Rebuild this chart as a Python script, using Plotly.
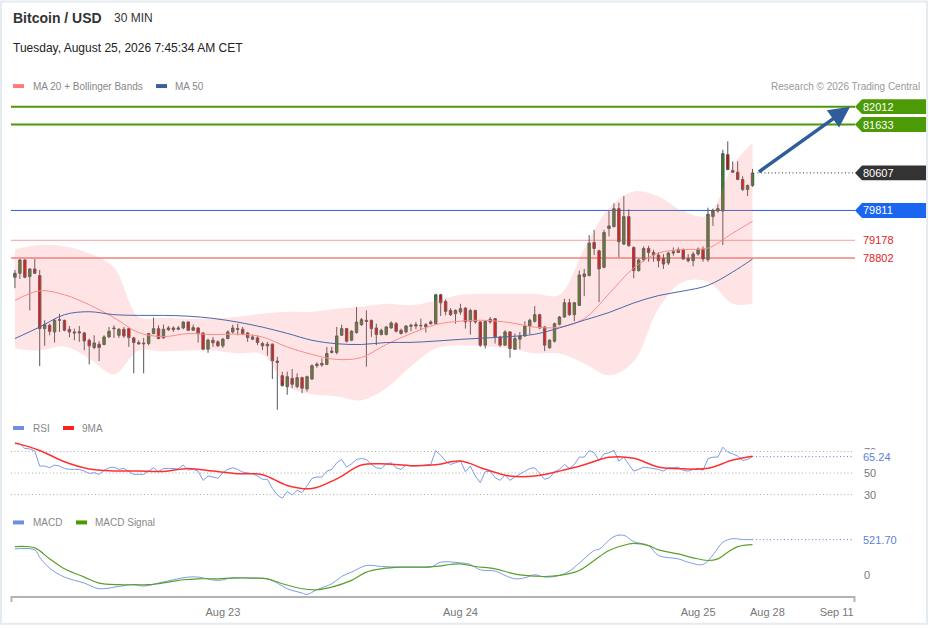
import plotly.graph_objects as go

# 30 min bars, Aug 22 -> Aug 25
opens = [78394, 78478, 78759, 78408, 78569, 78429, 77304, 77375, 77234, 77480,
         77480, 77290, 77234, 77213, 77213, 77058, 76904, 76974, 76967, 77129,
         77319, 77163, 77290, 77304, 77108, 77009, 76981, 76988, 77199, 77304,
         77108, 77283, 77319, 77290, 77319, 77445, 77269, 77319, 77213, 76869,
         77059, 77024, 76939, 77094, 77234, 77305, 77291, 77213, 77129, 77108,
         76989, 76975, 76975, 76616, 76307, 76075, 76251, 76075, 76265, 76026,
         76237, 76518, 76532, 76546, 76799, 76799, 77164, 77305, 77059, 77220,
         77389, 77480, 77480, 77319, 77178, 77178, 77319, 77410, 77270, 77235,
         77354, 77389, 77375, 77340, 77446, 77410, 78022, 77881, 77691, 77621,
         77656, 77741, 77460, 77691, 77446, 76954, 77446, 77516, 77129, 76954,
         77235, 76869, 77080, 77150, 77361, 77460, 77600, 77340, 76897, 77038,
         77396, 77551, 77853, 77600, 77797, 78408, 78429, 79132, 78956, 78605,
         79427, 79469, 79849, 79097, 79680, 79026, 78535, 78767, 79005, 78921,
         78865, 78795, 78696, 78907, 78921, 78977, 78795, 78745, 78886, 78991,
         78767, 79680, 79799, 79799, 80994, 80657, 80622, 80467, 80256, 80340]
highs = [78548, 78780, 78780, 78583, 78780, 78548, 77480, 77410, 77515, 77620,
         77494, 77361, 77304, 77361, 77234, 77094, 77163, 77037, 77163, 77340,
         77375, 77319, 77340, 77319, 77129, 77058, 77108, 77213, 77537, 77375,
         77389, 77361, 77354, 77361, 77459, 77459, 77389, 77340, 77234, 77094,
         77129, 77059, 77108, 77270, 77389, 77410, 77340, 77234, 77178, 77164,
         77024, 77024, 76989, 76707, 76391, 76391, 76448, 76356, 76286, 76307,
         76546, 76588, 76672, 76918, 76918, 77340, 77389, 77319, 77270, 77762,
         77530, 77691, 77495, 77410, 77305, 77361, 77459, 77446, 77305, 77375,
         77410, 77446, 77516, 77424, 77481, 78043, 78043, 77923, 77741, 77713,
         77832, 77755, 77727, 77705, 77460, 77481, 77551, 77530, 77150, 77270,
         77249, 77200, 77235, 77460, 77516, 77783, 77621, 77354, 77080, 77431,
         77572, 77937, 77937, 77867, 78535, 78570, 79286, 79399, 78977, 79399,
         79799, 79961, 79975, 80116, 79835, 79048, 78795, 79048, 79061, 78977,
         78921, 78886, 78935, 79026, 79026, 79005, 78886, 78935, 79026, 79048,
         79870, 79849, 79940, 81099, 81275, 80853, 80853, 80537, 80361, 80692]
lows = [78162, 78358, 78373, 77691, 78464, 76510, 76939, 77163, 77009, 77234,
        77248, 77122, 77058, 77023, 76848, 76546, 76868, 76616, 76953, 77108,
        77108, 77108, 77108, 76918, 76356, 76967, 76356, 76953, 77185, 77080,
        77094, 77255, 77234, 77269, 77290, 77255, 77255, 77009, 76848, 76792,
        76918, 76918, 76897, 77080, 77199, 77164, 77164, 77024, 77059, 76953,
        76848, 76729, 76237, 75583, 76075, 75900, 76040, 76040, 75935, 75970,
        76216, 76476, 76497, 76532, 76778, 76757, 77150, 77010, 77038, 77199,
        77361, 76497, 77129, 76953, 77164, 77164, 77305, 77221, 77178, 77200,
        77249, 77291, 77270, 77221, 77389, 77396, 77572, 77586, 77572, 77410,
        77600, 77305, 77178, 77410, 76918, 76883, 77410, 76989, 76918, 76940,
        76687, 76848, 76869, 77129, 77178, 77431, 77291, 76827, 76883, 77010,
        77375, 77530, 77572, 77460, 77783, 77993, 78415, 78865, 77867, 78584,
        79258, 79448, 78816, 79076, 79048, 78373, 78514, 78724, 78724, 78724,
        78605, 78570, 78654, 78851, 78907, 78767, 78710, 78626, 78851, 78724,
        78724, 79483, 79764, 79076, 80664, 80608, 80453, 80221, 80116, 80312]
closes = [78478, 78759, 78394, 78569, 78478, 77304, 77389, 77248, 77480, 77494,
          77269, 77234, 77213, 77234, 77044, 76939, 77002, 76904, 77129, 77248,
          77304, 77290, 77149, 77115, 77009, 76981, 76995, 77199, 77304, 77094,
          77290, 77319, 77283, 77319, 77445, 77269, 77326, 77199, 76869, 77059,
          77003, 76939, 77080, 77234, 77319, 77291, 77199, 77115, 77080, 77010,
          76939, 76939, 76623, 76588, 76096, 76286, 76124, 76265, 76040, 76286,
          76518, 76553, 76567, 76778, 76827, 77150, 77305, 77038, 77249, 77445,
          77495, 77459, 77305, 77178, 77270, 77340, 77424, 77249, 77200, 77361,
          77375, 77361, 77368, 77389, 77410, 78022, 77853, 77670, 77600, 77691,
          77727, 77446, 77691, 77446, 76954, 77460, 77502, 77129, 76954, 77235,
          76883, 77094, 77150, 77361, 77481, 77600, 77319, 76954, 77059, 77410,
          77551, 77853, 77600, 77853, 78443, 78464, 79118, 79005, 78570, 79343,
          79483, 79849, 79146, 79680, 79061, 78535, 78760, 79005, 78921, 78865,
          78745, 78675, 78907, 78935, 78977, 78781, 78745, 78886, 78991, 78781,
          79729, 79814, 79849, 81015, 80678, 80622, 80467, 80256, 80340, 80607]

# indicator lines, sampled every 5 bars
ind_idx = [0, 5, 10, 15, 20, 25, 30, 35, 40, 45, 50, 55, 60, 65, 70, 75,
           80, 85, 90, 95, 100, 105, 110, 115, 120, 125, 130, 135, 140, 145, 149]
ma20 = [77901, 78106, 78022, 77811, 77537, 77220, 77136, 77199, 77178, 77188,
        77126, 76915, 76757, 76651, 76693, 76968, 77199, 77389, 77463, 77480,
        77431, 77336, 77336, 77516, 78043, 78591, 78907, 78981, 79012, 79329, 79581]
bb_up = [78991, 79076, 79054, 78900, 78600, 77558, 77537, 77516, 77516, 77558,
         77621, 77663, 77663, 77726, 77769, 77832, 77800, 77895, 78022, 78043,
         78043, 78043, 78022, 78991, 79855, 80214, 80108, 79792, 79708, 80762, 81247]
bb_lo = [76883, 76841, 76925, 76672, 76335, 76841, 76820, 76841, 76841, 76778,
         76757, 76082, 75914, 75871, 75787, 76040, 76504, 76883, 76946, 76925,
         76883, 76778, 76778, 76567, 76314, 76609, 77726, 78296, 78296, 77832, 77832]
ma50 = [77094, 77339, 77600, 77663, 77600, 77585, 77585, 77568, 77522, 77442,
        77336, 77204, 77058, 76984, 76968, 77010, 77012, 77041, 77077, 77105,
        77136, 77185, 77320, 77484, 77646, 77849, 78005, 78102, 78222, 78506, 78780]

rsi = [77.1, 77.1, 72.8, 72.5, 70.3, 56.5, 56.5, 55.0, 57.4, 56.5,
       54.3, 53.4, 53.4, 53.4, 51.8, 49.7, 50.3, 48.8, 52.5, 54.9,
       55.5, 53.4, 54.3, 51.2, 48.8, 48.8, 48.8, 51.8, 54.9, 51.2,
       54.3, 54.3, 54.3, 54.0, 57.4, 52.8, 53.4, 51.8, 43.2, 47.2,
       46.3, 45.1, 50.3, 53.4, 54.9, 53.4, 50.9, 50.3, 49.4, 47.2,
       44.2, 44.2, 35.8, 29.7, 26.6, 32.8, 29.7, 34.0, 31.8, 38.0,
       45.1, 46.3, 46.3, 51.8, 53.4, 59.5, 62.6, 55.5, 58.6, 62.6,
       63.5, 62.6, 58.0, 54.9, 54.3, 58.6, 59.5, 54.9, 53.4, 57.4,
       56.5, 56.5, 57.1, 58.0, 58.0, 70.9, 66.6, 61.1, 58.0, 59.5,
       61.1, 51.2, 56.5, 47.2, 41.1, 51.2, 51.8, 45.7, 43.2, 48.2,
       43.2, 46.3, 48.8, 51.8, 54.3, 54.9, 49.4, 44.2, 45.7, 51.2,
       53.4, 58.0, 54.3, 58.0, 64.8, 64.8, 70.9, 68.8, 61.7, 67.8,
       68.8, 71.2, 61.1, 64.8, 58.0, 51.8, 53.4, 55.5, 54.9, 54.3,
       53.4, 51.8, 54.9, 54.9, 55.5, 52.5, 51.8, 53.4, 54.3, 52.5,
       63.5, 64.8, 64.8, 74.0, 69.4, 67.8, 65.7, 61.7, 62.6, 65.24]
rsi_ma9 = [78, 71, 60.5, 53.8, 52, 51.8, 51.5, 54.3, 51.8, 49.4, 48.5, 38.5, 35.6,
           44.6, 57.4, 58.4, 56.8, 57.8, 61.1, 53.5, 47.2, 47.2, 51.8, 57.7, 64.6,
           63.7, 55.6, 53.9, 54.4, 62.1, 65.7]

macd_idx = [0, 4, 5, 7, 10, 14, 17, 21, 24, 26, 29, 32, 35, 37, 41, 44, 48, 51, 53, 55,
            58, 59, 61, 64, 66, 68, 71, 74, 78, 81, 84, 86, 90, 92, 94, 97, 99, 101,
            103, 105, 107, 110, 112, 114, 117, 118, 121, 123, 125, 128, 130, 134, 136,
            139, 141, 143, 145, 147, 149]
macd = [385, 371, 263, 102, -29, -117, -200, -166, -141, -161, -117, -68, -29, -29,
        -78, -39, -44, -54, -117, -200, -263, -283, -215, -127, -20, 44, 141, 127,
        117, 117, 117, 190, 180, 156, 78, 59, -5, -54, -39, 5, -29, -5, 59, 176, 361,
        380, 566, 585, 492, 434, 288, 239, 190, 156, 297, 483, 536, 522, 521.7]
signal_idx = [0, 4, 7, 10, 14, 17, 21, 24, 27, 31, 34, 37, 41, 44, 48, 51, 54, 58, 61,
              64, 68, 71, 74, 78, 81, 85, 88, 90, 93, 97, 100, 103, 107, 110, 114, 117,
              120, 124, 125, 128, 130, 134, 137, 140, 142, 144, 146, 149]
macd_signal = [419, 400, 239, 93, -29, -117, -141, -141, -141, -102, -68, -54, -54,
               -44, -44, -54, -127, -200, -215, -176, -78, 44, 93, 117, 117, 127, 156,
               166, 127, 93, 34, -5, -20, -5, 68, 215, 361, 458, 468, 434, 371, 312,
               254, 215, 239, 336, 419, 449]

targets = [82012, 81633]
pivot = 79811
supports = [79178, 78802]
rsi_last = 65.24
macd_last = 521.70

tick_pos = [42, 90, 138, 152, 166]
tick_labels = ["Aug 23", "Aug 24", "Aug 25", "Aug 28", "Sep 11"]

bars = list(range(len(closes)))
last_price = closes[-1]

# page geometry (pixels)
PL, PR, PT, PB = 11, 855, 96, 599
XR = [-0.8, 169.7]
PRICE_R = [75513, 82238]
RSI_R = [22.6, 82.6]
MACD_R = [-307, 745]
FONT = "Liberation Sans, Arial, sans-serif"
DOTS = "1px,2.5px"


def fx(px):
    return (px - PL) / (PR - PL)


def fy(py):
    return (PB - py) / (PB - PT)


fig = go.Figure()

# Bollinger band + moving averages
fig.add_trace(go.Scatter(x=ind_idx, y=bb_lo, mode="lines",
                         line=dict(width=0, shape="spline"), hoverinfo="skip"))
fig.add_trace(go.Scatter(x=ind_idx, y=bb_up, mode="lines", fill="tonexty",
                         fillcolor="rgba(248,120,120,0.2)",
                         line=dict(width=0, shape="spline"), hoverinfo="skip"))
fig.add_trace(go.Scatter(x=ind_idx, y=ma20, mode="lines",
                         line=dict(color="#ff8a8a", width=1, shape="spline")))
fig.add_trace(go.Scatter(x=ind_idx, y=ma50, mode="lines",
                         line=dict(color="#4a68a8", width=1, shape="spline")))

fig.add_trace(go.Candlestick(
    x=bars, open=opens, high=highs, low=lows, close=closes,
    increasing=dict(line=dict(color="#555555", width=1), fillcolor="#2e8b1f"),
    decreasing=dict(line=dict(color="#555555", width=1), fillcolor="#e60000"),
    whiskerwidth=0,
))

# RSI panel
fig.add_trace(go.Scatter(x=bars, y=rsi, mode="lines", xaxis="x2", yaxis="y2",
                         line=dict(color="#7d9be6", width=1)))
fig.add_trace(go.Scatter(x=ind_idx, y=rsi_ma9, mode="lines", xaxis="x2", yaxis="y2",
                         line=dict(color="#ff3030", width=1.5, shape="spline")))

# MACD panel
fig.add_trace(go.Scatter(x=macd_idx, y=macd, mode="lines", xaxis="x3", yaxis="y3",
                         line=dict(color="#7d9be6", width=1, shape="spline")))
fig.add_trace(go.Scatter(x=signal_idx, y=macd_signal, mode="lines", xaxis="x3", yaxis="y3",
                         line=dict(color="#5aa02c", width=1.2, shape="spline")))

shapes = []
annotations = []

# horizontal levels
for v in targets:
    shapes.append(dict(type="line", xref="paper", yref="y", x0=0, x1=1, y0=v, y1=v,
                       line=dict(color="#4c9a06", width=2), layer="below"))
shapes.append(dict(type="line", xref="paper", yref="y", x0=0, x1=1, y0=pivot, y1=pivot,
                   line=dict(color="#2b61d6", width=1), layer="below"))
for v, w in zip(supports, [1, 2]):
    shapes.append(dict(type="line", xref="paper", yref="y", x0=0, x1=1, y0=v, y1=v,
                       line=dict(color="#f4a0a0", width=w), layer="below"))
shapes.append(dict(type="line", xref="x", yref="y", x0=bars[-1] + 1, x1=XR[1], y0=last_price,
                   y1=last_price, line=dict(color="#333333", width=1, dash=DOTS)))

# price tags on the right
h = 7.5 * (PRICE_R[1] - PRICE_R[0]) / (415 - PT)
for v, col in [(targets[0], "#4c9a06"), (targets[1], "#4c9a06"),
               (last_price, "#333333"), (pivot, "#1a66f0")]:
    path = (f"M {fx(855)},{v} L {fx(862)},{v + h} L {fx(927)},{v + h} "
            f"L {fx(927)},{v - h} L {fx(862)},{v - h} Z")
    shapes.append(dict(type="path", xref="paper", yref="y", path=path,
                       fillcolor=col, line=dict(width=0)))
    annotations.append(dict(xref="paper", yref="y", x=fx(861), y=v, text=str(v),
                            showarrow=False, xanchor="left", yanchor="middle",
                            font=dict(color="white", size=11)))
for v in supports:
    annotations.append(dict(xref="paper", yref="y", x=fx(861), y=v, text=str(v),
                            showarrow=False, xanchor="left", yanchor="middle",
                            font=dict(color="#e52222", size=11)))

# projection arrow
annotations.append(dict(x=168.7, y=targets[0], xref="x", yref="y",
                        ax=bars[-1] + 1, ay=last_price, axref="x", ayref="y",
                        showarrow=True, arrowhead=2, arrowsize=1.2, arrowwidth=3.5,
                        arrowcolor="#2f5d9b", text=""))

# RSI grid + labels
for v in [70, 50, 30]:
    shapes.append(dict(type="line", xref="paper", yref="y2", x0=0, x1=fx(852), y0=v, y1=v,
                       line=dict(color="#aaaaaa", width=1, dash=DOTS), layer="below"))
    annotations.append(dict(xref="paper", yref="y2", x=fx(862), y=v, text=str(v),
                            showarrow=False, xanchor="left", yanchor="middle",
                            font=dict(color="#777777", size=11)))
shapes.append(dict(type="line", xref="x2", yref="y2", x0=bars[-1], x1=XR[1] - 0.6,
                   y0=rsi_last, y1=rsi_last, line=dict(color="#5b7fdb", width=1, dash=DOTS)))
annotations.append(dict(xref="paper", yref="y2", x=fx(861), y=rsi_last, text=f"{rsi_last:.2f}",
                        showarrow=False, xanchor="left", yanchor="middle", bgcolor="white",
                        font=dict(color="#5b7fdb", size=11)))

# MACD labels
shapes.append(dict(type="line", xref="x3", yref="y3", x0=bars[-1], x1=XR[1] - 0.6,
                   y0=macd_last, y1=macd_last, line=dict(color="#5b7fdb", width=1, dash=DOTS)))
annotations.append(dict(xref="paper", yref="y3", x=fx(861), y=macd_last, text=f"{macd_last:.2f}",
                        showarrow=False, xanchor="left", yanchor="middle",
                        font=dict(color="#5b7fdb", size=11)))
annotations.append(dict(xref="paper", yref="y3", x=fx(862), y=0, text="0",
                        showarrow=False, xanchor="left", yanchor="middle",
                        font=dict(color="#777777", size=11)))

# end ticks of the time axis
for px in [PL + 0.5, PR - 0.5]:
    shapes.append(dict(type="line", xref="paper", yref="paper", x0=fx(px), x1=fx(px),
                       y0=fy(PB), y1=fy(PB + 6), line=dict(color="#b3b3b3", width=2)))


# header + legends
def text(x, y, s, size, color, bold=False, anchor="left"):
    annotations.append(dict(xref="paper", yref="paper", x=fx(x), y=fy(y),
                            text=f"<b>{s}</b>" if bold else s, showarrow=False,
                            xanchor=anchor, yanchor="middle",
                            font=dict(size=size, color=color)))


def swatch(x, y, color):
    shapes.append(dict(type="rect", xref="paper", yref="paper", x0=fx(x), x1=fx(x + 11),
                       y0=fy(y - 2), y1=fy(y + 2), fillcolor=color, line=dict(width=0)))


text(11, 18, "Bitcoin / USD", 14, "#333333", bold=True)
text(112, 18, "30 MIN", 12, "#333333")
text(11, 48, "Tuesday, August 25, 2026 7:45:34 AM CET", 12, "#222222")
swatch(13, 86, "#ff7b7b")
text(31, 86, "MA 20 + Bollinger Bands", 10, "#888888")
swatch(156, 86, "#3b5e9c")
text(173, 86, "MA 50", 10, "#888888")
text(922, 86, "Research © 2026 Trading Central", 10, "#999999", anchor="right")
swatch(13, 430, "#6f8fe0")
text(31, 430, "RSI", 10, "#888888")
swatch(63, 430, "#ff2020")
text(80, 430, "9MA", 10, "#888888")
swatch(13, 525, "#6f8fe0")
text(31, 525, "MACD", 10, "#888888")
swatch(76, 525, "#4a9a00")
text(93, 525, "MACD Signal", 10, "#888888")

# outer frame
shapes.append(dict(type="rect", xref="paper", yref="paper", x0=fx(1), x1=fx(927),
                   y0=fy(627), y1=fy(1), line=dict(color="#e4ebf1", width=2)))

hidden = dict(visible=False, range=XR, showgrid=False, zeroline=False)
fig.update_layout(
    width=929, height=629,
    margin=dict(l=PL, r=929 - PR, t=PT, b=629 - PB),
    paper_bgcolor="white", plot_bgcolor="rgba(0,0,0,0)",
    showlegend=False,
    font=dict(family=FONT),
    xaxis=dict(hidden, anchor="y", rangeslider=dict(visible=False)),
    yaxis=dict(domain=[fy(415), 1], range=PRICE_R, visible=False, showgrid=False),
    xaxis2=dict(hidden, anchor="y2"),
    yaxis2=dict(domain=[fy(505), fy(440)], range=RSI_R, visible=False, showgrid=False),
    xaxis3=dict(anchor="y3", range=XR, showgrid=False, zeroline=False,
                showline=True, linecolor="#b3b3b3", linewidth=2,
                tickvals=tick_pos, ticktext=tick_labels, ticks="outside", ticklen=5,
                tickcolor="rgba(0,0,0,0)", tickfont=dict(size=11, color="#777777")),
    yaxis3=dict(domain=[0, fy(527)], range=MACD_R, visible=False, showgrid=False),
    shapes=shapes,
    annotations=annotations,
)

fig.write_html("out.html", config={"displayModeBar": False},
               post_script="document.body.style.margin='0';")
